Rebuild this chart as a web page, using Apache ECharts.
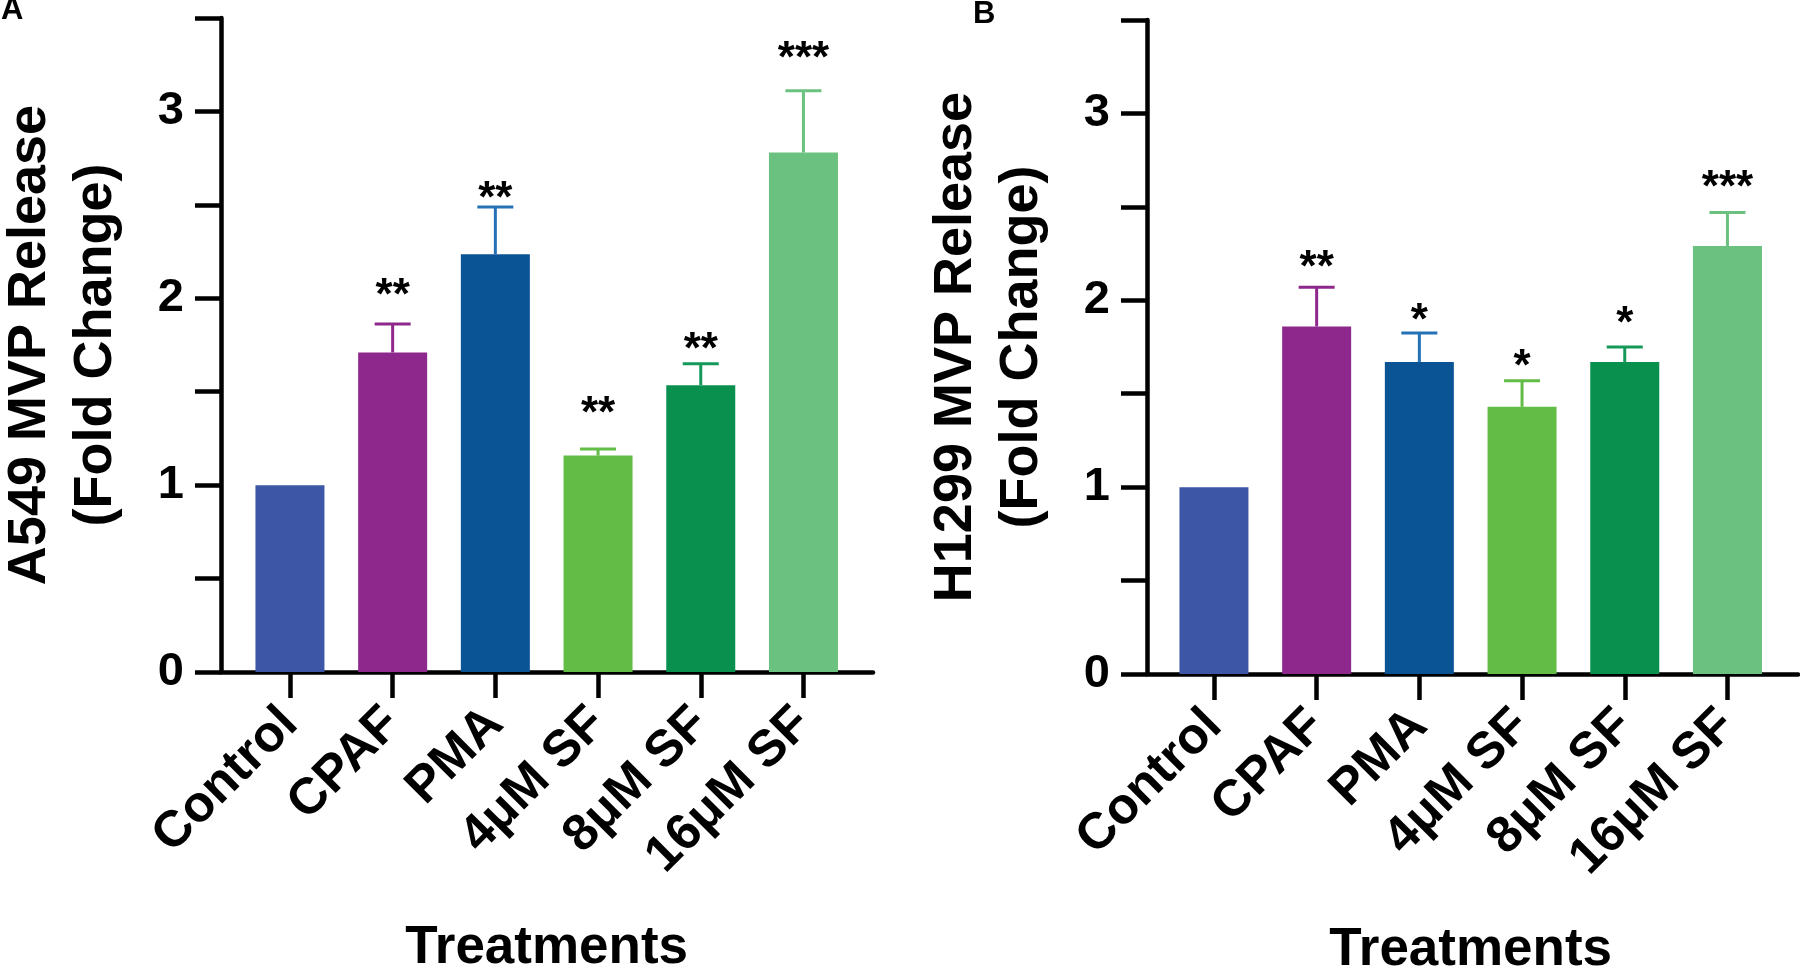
<!DOCTYPE html>
<html>
<head>
<meta charset="utf-8">
<script src="https://cdn.jsdelivr.net/npm/echarts@6/dist/echarts.min.js"></script>
<style>
    html, body { margin: 0; padding: 0; background: #fff; }
    #chart { width: 1800px; height: 972px; }
</style>
</head>
<body>
<div id="chart"></div>
<script>
    // 数据
    var categories = ['Control', 'CPAF', 'PMA', '4μM SF', '8μM SF', '16μM SF'];

    var a549Mean = [1.0, 1.71, 2.235, 1.158, 1.535, 2.78];
    var a549Err = [0, 0.153, 0.254, 0.036, 0.115, 0.33];
    var a549Sig = ['', '**', '**', '**', '**', '***'];
    var a549SigY = [0, 2.06, 2.58, 1.43, 1.77, 3.33];

    var h1299Mean = [1.0, 1.86, 1.67, 1.43, 1.67, 2.29];
    var h1299Err = [0, 0.21, 0.155, 0.14, 0.08, 0.18];
    var h1299Sig = ['', '**', '*', '*', '*', '***'];
    var h1299SigY = [0, 2.22, 1.94, 1.69, 1.92, 2.65];

    var barColors = ['#3D56A6', '#8E288C', '#0A5394', '#63BC46', '#0A904E', '#6BC17F'];
    var errColors = ['#3D56A6', '#8E288C', '#2471B5', '#63BC46', '#15995A', '#6BC17F'];

    var FONT = "'Liberation Sans', Arial, sans-serif";
    var AXW = 4.5;

    function errSeries(mean, err, axisIdx) {
        return {
            type: 'custom',
            xAxisIndex: axisIdx, yAxisIndex: axisIdx,
            data: mean.map(function (m, i) { return [i, m, err[i]]; }),
            encode: {x: 0, y: 1},
            z: 3,
            renderItem: function (params, api) {
                var i = api.value(0), m = api.value(1), e = api.value(2);
                if (!e) return;
                var base = api.coord([i, m]);
                var top = api.coord([i, m + e]);
                var hw = 18;
                var st = {stroke: errColors[i], lineWidth: 3};
                return {
                    type: 'group',
                    children: [
                        {type: 'line', shape: {x1: base[0], y1: base[1], x2: top[0], y2: top[1]}, style: st},
                        {type: 'line', shape: {x1: top[0] - hw, y1: top[1], x2: top[0] + hw, y2: top[1]}, style: st}
                    ]
                };
            }
        };
    }

    function sigSeries(sig, sigY, axisIdx) {
        return {
            type: 'custom',
            xAxisIndex: axisIdx, yAxisIndex: axisIdx,
            data: sigY.map(function (v, i) { return [i, v]; }),
            encode: {x: 0, y: 1},
            z: 4,
            renderItem: function (params, api) {
                var i = api.value(0);
                if (!sig[i]) return;
                var p = api.coord([i, api.value(1)]);
                return {
                    type: 'text',
                    x: p[0], y: p[1] + 10,
                    style: {
                        text: sig[i], fill: '#000',
                        fontFamily: FONT, fontWeight: 'bold', fontSize: 44,
                        align: 'center', verticalAlign: 'middle'
                    }
                };
            }
        };
    }

    function catAxis(gi) {
        return {
            gridIndex: gi,
            type: 'category',
            data: categories,
            axisLine: {show: false},
            axisTick: {show: true, alignWithLabel: true, length: 26, lineStyle: {color: '#000', width: AXW}},
            axisLabel: {
                rotate: 45, margin: 44, color: '#000',
                fontFamily: FONT, fontWeight: 'bold', fontSize: 51
            },
            name: 'Treatments',
            nameLocation: 'middle',
            nameGap: 250,
            nameTextStyle: {color: '#000', fontFamily: FONT, fontWeight: 'bold', fontSize: 53}
        };
    }

    function lineAxis(gi) {
        return {
            gridIndex: gi, type: 'value', min: 0, max: 1,
            axisLine: {show: true, lineStyle: {color: '#000', width: AXW}},
            axisTick: {show: false}, axisLabel: {show: false}, splitLine: {show: false}
        };
    }

    function valAxis(gi, offset, name) {
        return {
            gridIndex: gi,
            type: 'value',
            min: 0, max: 3.5, interval: 0.5,
            offset: offset,
            axisLine: {show: true, lineStyle: {color: '#000', width: AXW}},
            axisTick: {show: true, length: 26, lineStyle: {color: '#000', width: AXW}},
            axisLabel: {
                margin: 37, color: '#000',
                fontFamily: FONT, fontWeight: 'bold', fontSize: 47,
                formatter: function (v) { return v % 1 === 0 ? String(v) : ''; }
            },
            splitLine: {show: false},
            name: name,
            nameLocation: 'middle',
            nameRotate: 90,
            nameGap: 92,
            nameTextStyle: {color: '#000', fontFamily: FONT, fontWeight: 'bold', fontSize: 54, lineHeight: 66}
        };
    }

    function grid(left, width, top, bottom) {
        return {left: left, width: width, top: top, bottom: bottom, containLabel: false, outerBoundsMode: 'none'};
    }

    var dom = document.getElementById('chart');
    var myChart = echarts.init(dom);
    var option = {
        backgroundColor: '#fff',
        animation: false,
        title: [
            {text: 'A', left: 1, top: -5, padding: 0, textStyle: {fontFamily: FONT, fontWeight: 'bold', fontSize: 31, color: '#000'}},
            {text: 'B', left: 973, top: -1, padding: 0, textStyle: {fontFamily: FONT, fontWeight: 'bold', fontSize: 31, color: '#000'}}
        ],
        grid: [
            grid(238.6, 616.2, 18, 300),
            grid(221, 652, 18, 300),
            grid(1162.6, 616.2, 20, 298),
            grid(1147, 651, 20, 298)
        ],
        xAxis: [catAxis(0), lineAxis(1), catAxis(2), lineAxis(3)],
        yAxis: [
            valAxis(0, 17.6, 'A549 MVP Release\n(Fold Change)'),
            {gridIndex: 1, show: false},
            valAxis(2, 15.6, 'H1299 MVP Release\n(Fold Change)'),
            {gridIndex: 3, show: false}
        ],
        series: [
            {
                type: 'bar', xAxisIndex: 0, yAxisIndex: 0,
                data: a549Mean, barWidth: 69, z: 2,
                itemStyle: {color: function (p) { return barColors[p.dataIndex]; }}
            },
            errSeries(a549Mean, a549Err, 0),
            sigSeries(a549Sig, a549SigY, 0),
            {
                type: 'bar', xAxisIndex: 2, yAxisIndex: 2,
                data: h1299Mean, barWidth: 69, z: 2,
                itemStyle: {color: function (p) { return barColors[p.dataIndex]; }}
            },
            errSeries(h1299Mean, h1299Err, 2),
            sigSeries(h1299Sig, h1299SigY, 2)
        ]
    };
    if (option && typeof option === "object") {
        myChart.setOption(option, true);
    }
</script>
</body>
</html>
